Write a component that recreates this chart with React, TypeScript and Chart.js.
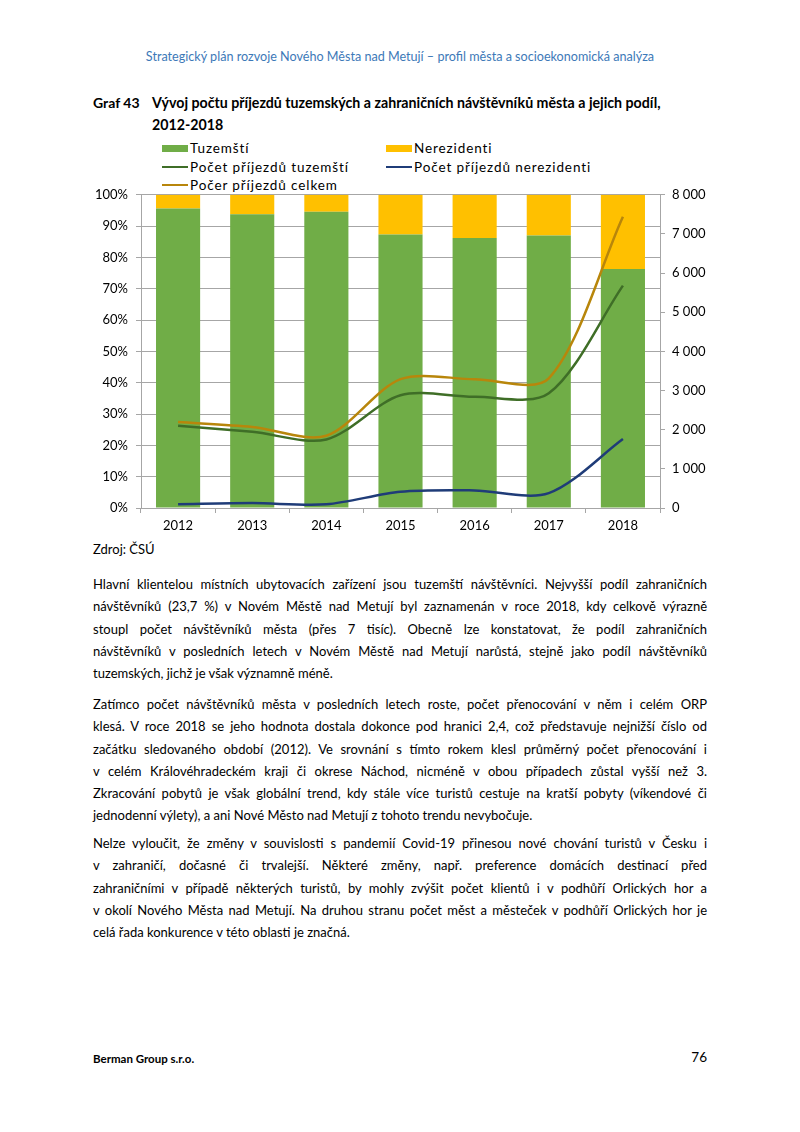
import React, { useEffect, useRef } from "react";
import { Chart, registerables } from "chart.js";

Chart.register(...registerables);

// ---------- data ----------
const years = ["2012", "2013", "2014", "2015", "2016", "2017", "2018"];
const shareDomestic = [95.6, 93.8, 94.6, 87.3, 86.2, 87.0, 76.3];
const shareForeign = [4.4, 6.2, 5.4, 12.7, 13.8, 13.0, 23.7];
const arrivalsDomestic = [2100, 1945, 1750, 2880, 2840, 2930, 5680];
const arrivalsForeign = [95, 125, 95, 415, 450, 380, 1760];
const arrivalsTotal = [2195, 2070, 1845, 3290, 3290, 3310, 7440];

const seriesLabels = [
  "Tuzemští",
  "Nerezidenti",
  "Počet příjezdů tuzemští",
  "Počet příjezdů nerezidenti",
  "Počer příjezdů celkem",
];
const seriesColors = ["#70AD47", "#FFC000", "#3F6E27", "#1F3C78", "#B8860B"];
const seriesKinds = ["bar", "bar", "line", "line", "line"];

const leftMax = 100;
const leftStep = 10;
const rightMax = 8000;
const rightStep = 1000;

const FONT = "Lato, 'Liberation Sans', sans-serif";

const p1 = [
  "Hlavní klientelou místních ubytovacích zařízení jsou tuzemští návštěvníci. Nejvyšší podíl zahraničních",
  "návštěvníků (23,7 %) v Novém Městě nad Metují byl zaznamenán v roce 2018, kdy celkově výrazně",
  "stoupl počet návštěvníků města (přes 7 tisíc). Obecně lze konstatovat, že podíl zahraničních",
  "návštěvníků v posledních letech v Novém Městě nad Metují narůstá, stejně jako podíl návštěvníků",
  "tuzemských, jichž je však významně méně.",
];
const p2 = [
  "Zatímco počet návštěvníků města v posledních letech roste, počet přenocování v něm i celém ORP",
  "klesá. V roce 2018 se jeho hodnota dostala dokonce pod hranici 2,4, což představuje nejnižší číslo od",
  "začátku sledovaného období (2012). Ve srovnání s tímto rokem klesl průměrný počet přenocování i",
  "v celém Královéhradeckém kraji či okrese Náchod, nicméně v obou případech zůstal vyšší než 3.",
  "Zkracování pobytů je však globální trend, kdy stále více turistů cestuje na kratší pobyty (víkendové či",
  "jednodenní výlety), a ani Nové Město nad Metují z tohoto trendu nevybočuje.",
];
const p3 = [
  "Nelze vyloučit, že změny v souvislosti s pandemií Covid-19 přinesou nové chování turistů v Česku i",
  "v zahraničí, dočasné či trvalejší. Některé změny, např. preference domácích destinací před",
  "zahraničními v případě některých turistů, by mohly zvýšit počet klientů i v podhůří Orlických hor a",
  "v okolí Nového Města nad Metují. Na druhou stranu počet měst a městeček v podhůří Orlických hor je",
  "celá řada konkurence v této oblasti je značná.",
];

function fmtThousands(v: number): string {
  if (v === 0) return "0";
  const th = Math.floor(v / 1000);
  const rest = v % 1000;
  return th > 0 ? `${th} ${String(rest).padStart(3, "0")}` : String(rest);
}

function Paragraph({ lines, top }: { lines: string[]; top: number }) {
  const lh = 22.3;
  return (
    <div style={{ position: "absolute", left: 93, top, width: 614 }}>
      {lines.map((l, i) => {
        const last = i === lines.length - 1;
        return (
          <div
            key={i}
            style={{
              height: lh,
              lineHeight: `${lh}px`,
              whiteSpace: "nowrap",
              textAlign: last ? "left" : "justify",
              textAlignLast: last ? "left" : "justify",
            } as React.CSSProperties}
          >
            {l}
          </div>
        );
      })}
    </div>
  );
}

function LegendItem({ idx, left, top }: { idx: number; left: number; top: number }) {
  const isBar = seriesKinds[idx] === "bar";
  return (
    <div style={{ position: "absolute", left, top, height: 18, display: "flex", alignItems: "center" }}>
      <div
        style={{
          width: 26,
          height: isBar ? 7 : 2.5,
          background: seriesColors[idx],
          marginRight: 2,
        }}
      />
      <span style={{ fontSize: 13.5, letterSpacing: 0.9, color: "#000", lineHeight: "18px", whiteSpace: "nowrap" }}>
        {seriesLabels[idx]}
      </span>
    </div>
  );
}

function ChartBox() {
  const ref = useRef<HTMLCanvasElement | null>(null);
  useEffect(() => {
    if (!ref.current) return;
    const tickFont = { family: FONT, size: 13 };
    const gridColor = "#A6A6A6";
    const lineDs = (i: number, data: number[]) => ({
      type: "line",
      label: seriesLabels[i],
      data,
      yAxisID: "y1",
      borderColor: seriesColors[i],
      backgroundColor: seriesColors[i],
      borderWidth: 2.5,
      pointRadius: 0,
      tension: 0.3,
      fill: false,
      order: 0,
    });
    const barDs = (i: number, data: number[]) => ({
      type: "bar",
      label: seriesLabels[i],
      data,
      yAxisID: "y",
      backgroundColor: seriesColors[i],
      borderWidth: 0,
      categoryPercentage: 1,
      barPercentage: 0.595,
      order: 1,
    });
    const chart = new Chart(ref.current, {
      type: "bar",
      data: {
        labels: years,
        datasets: [
          lineDs(2, arrivalsDomestic),
          lineDs(3, arrivalsForeign),
          lineDs(4, arrivalsTotal),
          barDs(0, shareDomestic),
          barDs(1, shareForeign),
        ],
      } as any,
      options: {
        animation: false,
        responsive: false,
        maintainAspectRatio: false,
        layout: { padding: { top: 0, left: 0, right: 0, bottom: 0 } },
        plugins: { legend: { display: false }, tooltip: { enabled: false } },
        scales: {
          x: {
            stacked: true,
            grid: {
              offset: true,
              drawOnChartArea: false,
              drawTicks: true,
              tickLength: 5,
              color: gridColor,
            },
            border: { display: true, color: gridColor },
            ticks: { font: tickFont, color: "#000", padding: 5 },
            afterFit: (s: any) => {
              s.height = 28;
            },
          },
          y: {
            stacked: true,
            position: "left",
            min: 0,
            max: leftMax,
            ticks: {
              stepSize: leftStep,
              font: tickFont,
              color: "#000",
              padding: 8,
              callback: (v: any) => `${v}%`,
            },
            grid: { color: gridColor, tickLength: 5, drawTicks: true },
            border: { display: true, color: gridColor },
            afterFit: (s: any) => {
              s.width = 51;
            },
          },
          y1: {
            stacked: false,
            position: "right",
            min: 0,
            max: rightMax,
            ticks: {
              stepSize: rightStep,
              font: tickFont,
              color: "#000",
              padding: 7,
              callback: (v: any) => fmtThousands(Number(v)),
            },
            grid: { drawOnChartArea: false, color: gridColor, tickLength: 5 },
            border: { display: true, color: gridColor },
            afterFit: (s: any) => {
              s.width = 50;
            },
          },
        },
      } as any,
    });
    return () => chart.destroy();
  }, []);
  return <canvas ref={ref} width={620} height={357} style={{ width: 620, height: 357, display: "block" }} />;
}

export default function App() {
  return (
    <div
      style={{
        position: "absolute",
        left: 0,
        top: 0,
        width: 800,
        height: 1132,
        background: "#fff",
        fontFamily: FONT,
        color: "#000",
        overflow: "hidden",
      }}
    >
      <div
        style={{
          position: "absolute",
          left: 0,
          top: 48,
          width: 800,
          textAlign: "center",
          fontSize: 12.6,
          lineHeight: "18px",
          color: "#3D79B8",
          whiteSpace: "nowrap",
        }}
      >
        Strategický plán rozvoje Nového Města nad Metují – profil města a socioekonomická analýza
      </div>

      <div style={{ position: "absolute", left: 93, top: 93, fontSize: 14, fontWeight: 700, lineHeight: "20px" }}>
        Graf 43
      </div>
      <div
        style={{
          position: "absolute",
          left: 152,
          top: 92,
          width: 580,
          fontSize: 14.2,
          fontWeight: 700,
          lineHeight: "22px",
        }}
      >
        <div style={{ whiteSpace: "nowrap" }}>
          Vývoj počtu příjezdů tuzemských a zahraničních návštěvníků města a jejich podíl,
        </div>
        <div>2012-2018</div>
      </div>

      <LegendItem idx={0} left={162} top={139} />
      <LegendItem idx={1} left={386} top={139} />
      <LegendItem idx={2} left={162} top={158} />
      <LegendItem idx={3} left={386} top={158} />
      <LegendItem idx={4} left={162} top={176} />

      <div style={{ position: "absolute", left: 90, top: 179 }}>
        <ChartBox />
      </div>

      <div style={{ position: "absolute", left: 93, top: 539, fontSize: 13, lineHeight: "20px" }}>Zdroj: ČSÚ</div>

      <div style={{ fontSize: 13 }}>
        <Paragraph lines={p1} top={573} />
        <Paragraph lines={p2} top={693} />
        <Paragraph lines={p3} top={832} />
      </div>

      <div
        style={{ position: "absolute", left: 93, top: 1050, fontSize: 11.5, fontWeight: 700, lineHeight: "18px" }}
      >
        Berman Group s.r.o.
      </div>
      <div
        style={{
          position: "absolute",
          left: 600,
          width: 107,
          top: 1048,
          fontSize: 13.5,
          lineHeight: "18px",
          textAlign: "right",
        }}
      >
        76
      </div>
    </div>
  );
}
